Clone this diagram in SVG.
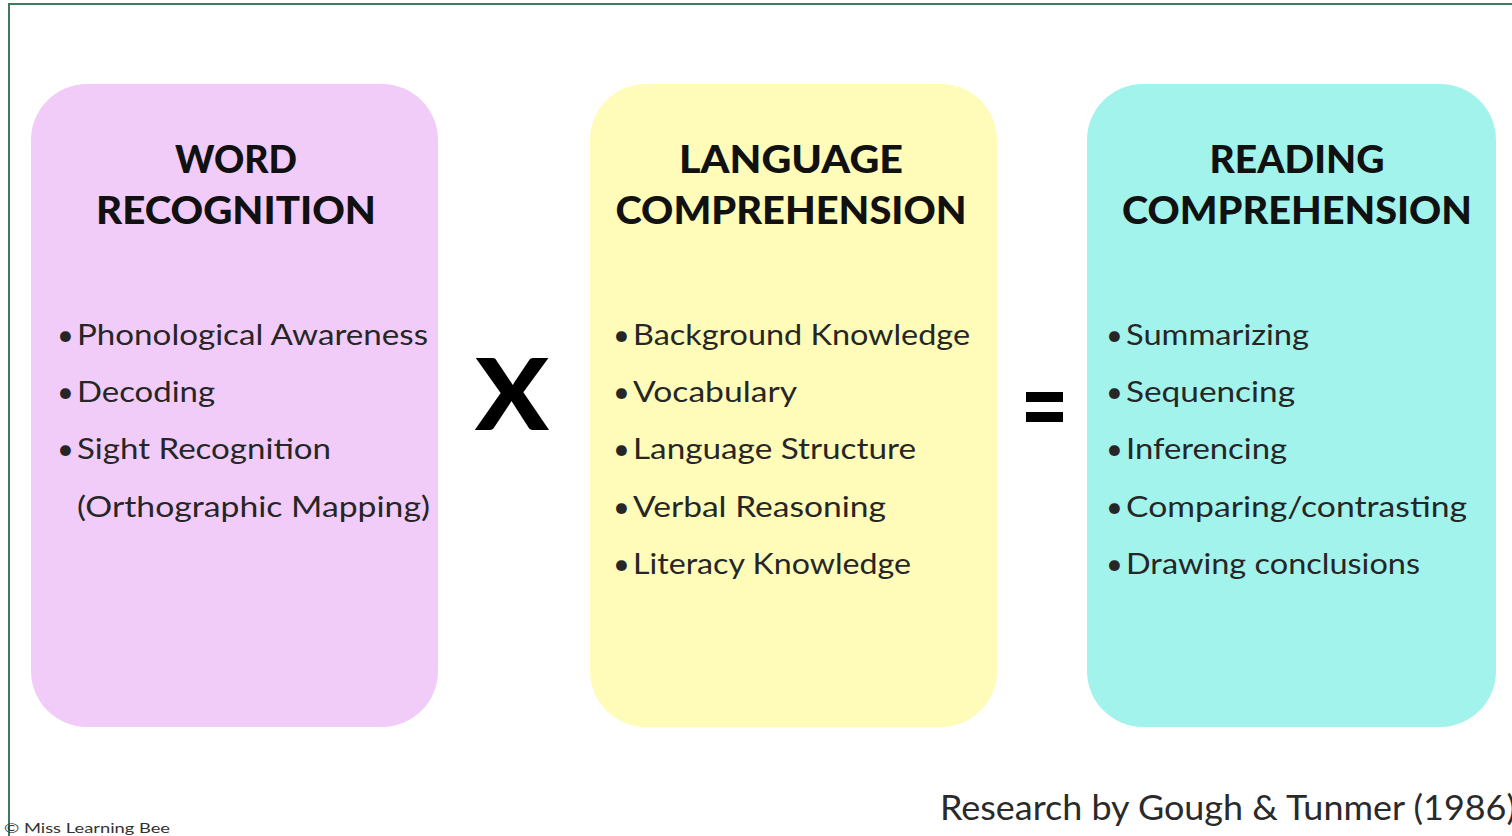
<svg xmlns="http://www.w3.org/2000/svg" width="1512" height="836" viewBox="0 0 1512 836">
<style>
.box{stroke:none}
.h{font-family:Lato,"Liberation Sans",sans-serif;font-weight:900;font-size:38px;fill:#111;text-anchor:middle}
.li{font-family:Lato,"Liberation Sans",sans-serif;font-size:29px;fill:#262626}
.op{font-family:Lato,"Liberation Sans",sans-serif;font-weight:900;fill:#000}
</style>
<rect width="1512" height="836" fill="#ffffff"/>
<path d="M9,836 V4 H1512" fill="none" stroke="#3f7a5e" stroke-width="2"/>

<g id="word-recognition">
<rect class="box" x="31" y="84" width="407" height="643" rx="56" fill="#f2ccf9"/>
<text class="h" x="236" y="173" textLength="122" lengthAdjust="spacingAndGlyphs">WORD</text>
<text class="h" x="236" y="224" textLength="280" lengthAdjust="spacingAndGlyphs">RECOGNITION</text>
<text class="li" y="345"><tspan x="57">•</tspan><tspan x="77" textLength="351" lengthAdjust="spacingAndGlyphs">Phonological Awareness</tspan></text>
<text class="li" y="402"><tspan x="57">•</tspan><tspan x="77" textLength="138" lengthAdjust="spacingAndGlyphs">Decoding</tspan></text>
<text class="li" y="459"><tspan x="57">•</tspan><tspan x="77" textLength="254" lengthAdjust="spacingAndGlyphs">Sight Recognition</tspan></text>
<text class="li" y="517"><tspan x="77" textLength="353" lengthAdjust="spacingAndGlyphs">(Orthographic Mapping)</tspan></text>
</g>

<g id="language-comprehension">
<rect class="box" x="590" y="84" width="407" height="643" rx="56" fill="#fefcb8"/>
<text class="h" x="791" y="173" textLength="224" lengthAdjust="spacingAndGlyphs">LANGUAGE</text>
<text class="h" x="791" y="224" textLength="351" lengthAdjust="spacingAndGlyphs">COMPREHENSION</text>
<text class="li" y="345"><tspan x="613">•</tspan><tspan x="633" textLength="337" lengthAdjust="spacingAndGlyphs">Background Knowledge</tspan></text>
<text class="li" y="402"><tspan x="613">•</tspan><tspan x="633" textLength="164" lengthAdjust="spacingAndGlyphs">Vocabulary</tspan></text>
<text class="li" y="459"><tspan x="613">•</tspan><tspan x="633" textLength="283" lengthAdjust="spacingAndGlyphs">Language Structure</tspan></text>
<text class="li" y="517"><tspan x="613">•</tspan><tspan x="633" textLength="253" lengthAdjust="spacingAndGlyphs">Verbal Reasoning</tspan></text>
<text class="li" y="574"><tspan x="613">•</tspan><tspan x="633" textLength="278" lengthAdjust="spacingAndGlyphs">Literacy Knowledge</tspan></text>
</g>

<g id="reading-comprehension">
<rect class="box" x="1087" y="84" width="409" height="643" rx="56" fill="#a2f3ec"/>
<text class="h" x="1297" y="173" textLength="175" lengthAdjust="spacingAndGlyphs">READING</text>
<text class="h" x="1297" y="224" textLength="350" lengthAdjust="spacingAndGlyphs">COMPREHENSION</text>
<text class="li" y="345"><tspan x="1106">•</tspan><tspan x="1126" textLength="183" lengthAdjust="spacingAndGlyphs">Summarizing</tspan></text>
<text class="li" y="402"><tspan x="1106">•</tspan><tspan x="1126" textLength="169" lengthAdjust="spacingAndGlyphs">Sequencing</tspan></text>
<text class="li" y="459"><tspan x="1106">•</tspan><tspan x="1126" textLength="161" lengthAdjust="spacingAndGlyphs">Inferencing</tspan></text>
<text class="li" y="517"><tspan x="1106">•</tspan><tspan x="1126" textLength="341" lengthAdjust="spacingAndGlyphs">Comparing/contrasting</tspan></text>
<text class="li" y="574"><tspan x="1106">•</tspan><tspan x="1126" textLength="294" lengthAdjust="spacingAndGlyphs">Drawing conclusions</tspan></text>
</g>

<g id="operators">
<text class="op" x="475" y="430" font-size="100" textLength="74" lengthAdjust="spacingAndGlyphs">X</text>
<rect x="1026" y="392" width="37" height="10" fill="#000"/>
<rect x="1026" y="412" width="37" height="10" fill="#000"/>
</g>

<g id="footer">
<text x="940" y="820" font-family="Lato,'Liberation Sans',sans-serif" font-size="35" fill="#2a2a2a" textLength="576" lengthAdjust="spacingAndGlyphs">Research by Gough &amp; Tunmer (1986)</text>
<text x="4" y="833" font-family="Lato,'Liberation Sans',sans-serif" font-size="13" fill="#333" textLength="166" lengthAdjust="spacingAndGlyphs">© Miss Learning Bee</text>
</g>
</svg>
